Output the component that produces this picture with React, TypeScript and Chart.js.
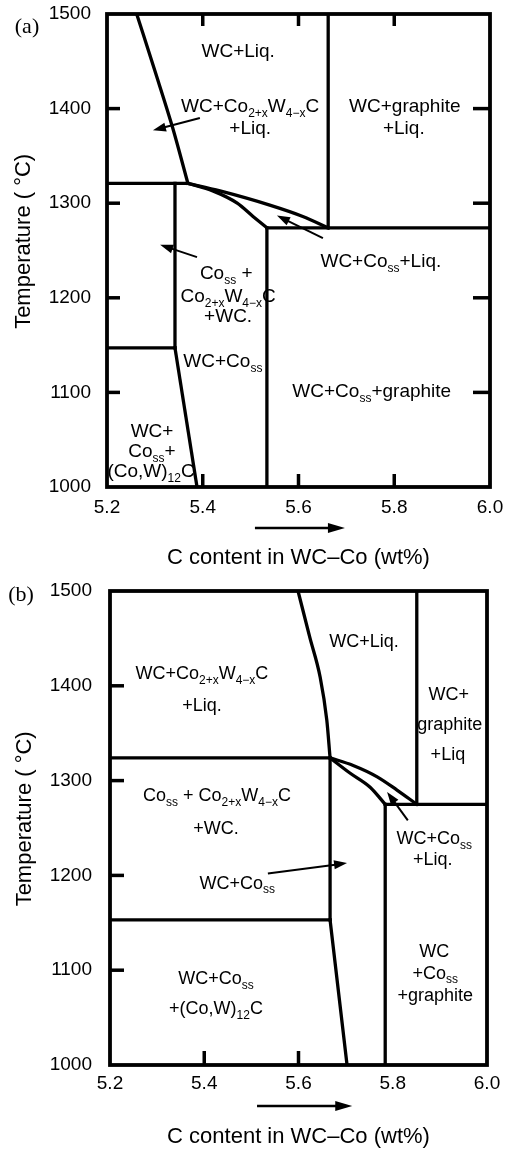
import React, { useEffect, useRef } from 'react';
import { Chart, registerables } from 'chart.js';

Chart.register(...registerables);

// ---------------- axis ticks ----------------
const X_MIN = 5.2;
const X_MAX = 6.0;
const X_STEP = 0.2;
const T_MIN = 1000;
const T_MAX = 1500;
const T_STEP = 100;
const INNER_T_TICKS = [1100, 1200, 1300, 1400];
const INNER_X_TICKS = [5.4, 5.6, 5.8];

// ---------------- panel (a) boundaries ----------------
const A_LIQUIDUS_X = [5.262, 5.3, 5.337, 5.369];
const A_LIQUIDUS_T = [1500, 1440, 1380, 1321];
const A_EUTECTIC_X = [5.2, 5.369];
const A_EUTECTIC_T = [1321, 1321];
const A_ETA_X = [5.342, 5.342];
const A_ETA_T = [1321, 1147];
const A_LOWER_X = [5.2, 5.342];
const A_LOWER_T = [1147, 1147];
const A_SOLVUS_X = [5.342, 5.388];
const A_SOLVUS_T = [1147, 1000];
const A_UPPER_ARC_X = [5.369, 5.436, 5.54, 5.609, 5.662];
const A_UPPER_ARC_T = [1321, 1313, 1298, 1286, 1274];
const A_LOWER_ARC_X = [5.369, 5.421, 5.472, 5.505, 5.534];
const A_LOWER_ARC_T = [1321, 1313, 1300, 1286, 1274];
const A_GRAPH_H_X = [5.534, 6.0];
const A_GRAPH_H_T = [1274, 1274];
const A_GRAPH_V_X = [5.534, 5.534];
const A_GRAPH_V_T = [1274, 1000];
const A_LIQ_V_X = [5.662, 5.662];
const A_LIQ_V_T = [1500, 1274];

// ---------------- panel (b) boundaries ----------------
const B_LIQUIDUS_X = [5.599, 5.624, 5.646, 5.66, 5.667];
const B_LIQUIDUS_T = [1500, 1451, 1409, 1364, 1324];
const B_EUTECTIC_X = [5.2, 5.667];
const B_EUTECTIC_T = [1324, 1324];
const B_ETA_X = [5.667, 5.667];
const B_ETA_T = [1324, 1153];
const B_LOWER_X = [5.2, 5.667];
const B_LOWER_T = [1153, 1153];
const B_SOLVUS_X = [5.667, 5.703];
const B_SOLVUS_T = [1153, 1000];
const B_UPPER_ARC_X = [5.667, 5.716, 5.767, 5.809, 5.851];
const B_UPPER_ARC_T = [1324, 1316, 1304, 1290, 1275];
const B_LOWER_ARC_X = [5.667, 5.709, 5.752, 5.784];
const B_LOWER_ARC_T = [1324, 1308, 1293, 1275];
const B_GRAPH_H_X = [5.784, 6.0];
const B_GRAPH_H_T = [1275, 1275];
const B_GRAPH_V_X = [5.784, 5.784];
const B_GRAPH_V_T = [1275, 1000];
const B_LIQ_V_X = [5.851, 5.851];
const B_LIQ_V_T = [1500, 1275];

// ---------------- region labels (text, x wt%, T) ----------------
const A_LABEL_TEXT = [
  'WC+Liq.', 'WC+Co_{2+x}W_{4−x}C', '+Liq.', 'WC+graphite', '+Liq.',
  'WC+Co_{ss}+Liq.', 'Co_{ss} +', 'Co_{2+x}W_{4−x}C', '+WC.', 'WC+Co_{ss}',
  'WC+Co_{ss}+graphite', 'WC+', 'Co_{ss}+', '(Co,W)_{12}C',
];
const A_LABEL_X = [5.474, 5.499, 5.499, 5.822, 5.82, 5.772, 5.449, 5.453, 5.453, 5.442, 5.753, 5.294, 5.294, 5.292];
const A_LABEL_T = [1462, 1404, 1380, 1404, 1380, 1240, 1227, 1203, 1182, 1134, 1102, 1060, 1039, 1018];

const B_LABEL_TEXT = [
  'WC+Liq.', 'WC+Co_{2+x}W_{4−x}C', '+Liq.', 'WC+', 'graphite', '+Liq',
  'Co_{ss} + Co_{2+x}W_{4−x}C', '+WC.', 'WC+Co_{ss}', '+Liq.', 'WC+Co_{ss}',
  'WC+Co_{ss}', '+(Co,W)_{12}C', 'WC', '+Co_{ss}', '+graphite',
];
const B_LABEL_X = [5.739, 5.395, 5.395, 5.919, 5.921, 5.917, 5.427, 5.425, 5.888, 5.885, 5.47, 5.425, 5.425, 5.888, 5.89, 5.89];
const B_LABEL_T = [1448, 1414, 1380, 1392, 1360, 1329, 1285, 1251, 1240, 1218, 1193, 1092, 1061, 1121, 1098, 1074];

// ---------------- pointer arrows (x0, T0 -> x1, T1 tip) ----------------
const A_ARROWS = [
  [5.394, 1390, 5.296, 1377],
  [5.651, 1263, 5.555, 1287],
  [5.388, 1243, 5.311, 1256],
];
const B_ARROWS = [
  [5.535, 1202, 5.703, 1213],
  [5.832, 1258, 5.788, 1288],
];
const A_AXIS_ARROW_X = [5.509, 5.697];
const B_AXIS_ARROW_X = [5.512, 5.714];

const X_TITLE = 'C content in WC–Co (wt%)';
const Y_TITLE = '   Temperature ( °C)';

const SANS = '"Liberation Sans", Arial, Helvetica, sans-serif';

type Seg = { xs: number[]; ts: number[]; curve?: boolean };

const A_SEGS: Seg[] = [
  { xs: A_LIQUIDUS_X, ts: A_LIQUIDUS_T, curve: true },
  { xs: A_EUTECTIC_X, ts: A_EUTECTIC_T },
  { xs: A_ETA_X, ts: A_ETA_T },
  { xs: A_LOWER_X, ts: A_LOWER_T },
  { xs: A_SOLVUS_X, ts: A_SOLVUS_T },
  { xs: A_UPPER_ARC_X, ts: A_UPPER_ARC_T, curve: true },
  { xs: A_LOWER_ARC_X, ts: A_LOWER_ARC_T, curve: true },
  { xs: A_GRAPH_H_X, ts: A_GRAPH_H_T },
  { xs: A_GRAPH_V_X, ts: A_GRAPH_V_T },
  { xs: A_LIQ_V_X, ts: A_LIQ_V_T },
];
const B_SEGS: Seg[] = [
  { xs: B_LIQUIDUS_X, ts: B_LIQUIDUS_T, curve: true },
  { xs: B_EUTECTIC_X, ts: B_EUTECTIC_T },
  { xs: B_ETA_X, ts: B_ETA_T },
  { xs: B_LOWER_X, ts: B_LOWER_T },
  { xs: B_SOLVUS_X, ts: B_SOLVUS_T },
  { xs: B_UPPER_ARC_X, ts: B_UPPER_ARC_T, curve: true },
  { xs: B_LOWER_ARC_X, ts: B_LOWER_ARC_T, curve: true },
  { xs: B_GRAPH_H_X, ts: B_GRAPH_H_T },
  { xs: B_GRAPH_V_X, ts: B_GRAPH_V_T },
  { xs: B_LIQ_V_X, ts: B_LIQ_V_T },
];

function parseRich(s: string) {
  const parts: { t: string; sub: boolean }[] = [];
  const re = /_\{([^}]*)\}/g;
  let last = 0;
  let m: RegExpExecArray | null;
  while ((m = re.exec(s))) {
    if (m.index > last) parts.push({ t: s.slice(last, m.index), sub: false });
    parts.push({ t: m[1], sub: true });
    last = re.lastIndex;
  }
  if (last < s.length) parts.push({ t: s.slice(last), sub: false });
  return parts;
}

function drawRich(ctx: CanvasRenderingContext2D, text: string, cx: number, cy: number, size: number, subSize: number) {
  const parts = parseRich(text);
  const mainFont = `${size}px ${SANS}`;
  const subFont = `${subSize}px ${SANS}`;
  let w = 0;
  for (const p of parts) {
    ctx.font = p.sub ? subFont : mainFont;
    w += ctx.measureText(p.t).width;
  }
  let x = cx - w / 2;
  const base = cy + size * 0.36;
  ctx.textAlign = 'left';
  ctx.textBaseline = 'alphabetic';
  for (const p of parts) {
    ctx.font = p.sub ? subFont : mainFont;
    ctx.fillText(p.t, x, p.sub ? base + size * 0.27 : base);
    x += ctx.measureText(p.t).width;
  }
}

function drawArrow(ctx: CanvasRenderingContext2D, x0: number, y0: number, x1: number, y1: number, L: number, W: number) {
  const ang = Math.atan2(y1 - y0, x1 - x0);
  const bx = x1 - L * Math.cos(ang);
  const by = y1 - L * Math.sin(ang);
  ctx.beginPath();
  ctx.moveTo(x0, y0);
  ctx.lineTo(bx + Math.cos(ang), by + Math.sin(ang));
  ctx.stroke();
  ctx.beginPath();
  ctx.moveTo(x1, y1);
  ctx.lineTo(bx + W * Math.sin(ang), by - W * Math.cos(ang));
  ctx.lineTo(bx - W * Math.sin(ang), by + W * Math.cos(ang));
  ctx.closePath();
  ctx.fill();
}

const decorPlugin = {
  id: 'decor',
  afterDatasetsDraw(chart: any, _args: any, opts: any) {
    const { ctx, chartArea } = chart;
    const { left, right, top, bottom } = chartArea;
    const xs = chart.scales.x;
    const ys = chart.scales.y;
    const px = (v: number) => xs.getPixelForValue(v);
    const py = (v: number) => ys.getPixelForValue(v);
    ctx.save();
    ctx.strokeStyle = '#000';
    ctx.fillStyle = '#000';
    ctx.lineWidth = 3.8;
    ctx.strokeRect(left, top, right - left, bottom - top);
    const seg = (x1: number, y1: number, x2: number, y2: number) => {
      ctx.beginPath();
      ctx.moveTo(x1, y1);
      ctx.lineTo(x2, y2);
      ctx.stroke();
    };
    ctx.lineWidth = 3.5;
    for (const t of opts.leftTicks) seg(left, py(t), left + opts.tickLen, py(t));
    for (const t of opts.rightTicks) seg(right, py(t), right - opts.tickLen - 4, py(t));
    for (const v of opts.bottomTicks) seg(px(v), bottom, px(v), bottom - opts.tickLen);
    for (const v of opts.topTicks) seg(px(v), top, px(v), top + opts.tickLen - 1);

    ctx.lineWidth = 2;
    for (const a of opts.arrows) drawArrow(ctx, px(a[0]), py(a[1]), px(a[2]), py(a[3]), 13, 4.5);
    ctx.lineWidth = 2.5;
    const ay = bottom + opts.axisArrowDy;
    drawArrow(ctx, px(opts.axisArrowX[0]), ay, px(opts.axisArrowX[1]), ay, 17, 5);

    const texts: string[] = opts.labelText;
    for (let i = 0; i < texts.length; i++) {
      drawRich(ctx, texts[i], px(opts.labelX[i]), py(opts.labelT[i]), opts.labelSize, opts.subSize);
    }

    ctx.font = '22px "Liberation Serif", "DejaVu Serif", serif';
    ctx.textAlign = 'center';
    ctx.textBaseline = 'middle';
    ctx.fillText(opts.tag, left + opts.tagDx, top + opts.tagDy);
    ctx.restore();
  },
};

type PanelCfg = {
  height: number;
  segs: Seg[];
  padTop: number;
  padRight: number;
  yW: number;
  xH: number;
  yTickPad: number;
  xTickPad: number;
  yTitlePad: number;
  xTitlePad: number;
  decor: any;
};

const PANEL_A: PanelCfg = {
  height: 575,
  segs: A_SEGS,
  padTop: 14,
  padRight: 19,
  yW: 107,
  xH: 88,
  yTickPad: 16,
  xTickPad: 9,
  yTitlePad: 13,
  xTitlePad: 6,
  decor: {
    leftTicks: INNER_T_TICKS,
    rightTicks: INNER_T_TICKS,
    bottomTicks: INNER_X_TICKS,
    topTicks: INNER_X_TICKS,
    tickLen: 13,
    arrows: A_ARROWS,
    axisArrowX: A_AXIS_ARROW_X,
    axisArrowDy: 41,
    labelText: A_LABEL_TEXT,
    labelX: A_LABEL_X,
    labelT: A_LABEL_T,
    labelSize: 19,
    subSize: 12,
    tag: '(a)',
    tagDx: -80,
    tagDy: 13,
  },
};

const PANEL_B: PanelCfg = {
  height: 574,
  segs: B_SEGS,
  padTop: 16,
  padRight: 22,
  yW: 110,
  xH: 84,
  yTickPad: 18,
  xTickPad: 7,
  yTitlePad: 14,
  xTitlePad: 1,
  decor: {
    leftTicks: INNER_T_TICKS,
    rightTicks: [],
    bottomTicks: [5.4, 5.6],
    topTicks: [],
    tickLen: 14,
    arrows: B_ARROWS,
    axisArrowX: B_AXIS_ARROW_X,
    axisArrowDy: 41,
    labelText: B_LABEL_TEXT,
    labelX: B_LABEL_X,
    labelT: B_LABEL_T,
    labelSize: 18,
    subSize: 12,
    tag: '(b)',
    tagDx: -89,
    tagDy: 4,
  },
};

function Panel({ cfg }: { cfg: PanelCfg }) {
  const ref = useRef<HTMLCanvasElement>(null);
  useEffect(() => {
    const datasets = cfg.segs.map((s) => ({
      data: s.xs.map((x, i) => ({ x, y: s.ts[i] })),
      showLine: true,
      borderColor: '#000',
      borderWidth: 3.3,
      borderCapStyle: 'square' as const,
      borderJoinStyle: 'round' as const,
      pointRadius: 0,
      pointHoverRadius: 0,
      cubicInterpolationMode: s.curve ? ('monotone' as const) : ('default' as const),
      tension: s.curve ? 0.4 : 0,
      fill: false,
    }));
    const chart = new Chart(ref.current!, {
      type: 'scatter',
      data: { datasets },
      options: {
        animation: false,
        responsive: false,
        devicePixelRatio: 1,
        events: [],
        layout: { padding: { top: cfg.padTop, right: cfg.padRight, left: 0, bottom: 0 } },
        plugins: {
          legend: { display: false },
          tooltip: { enabled: false },
          decor: cfg.decor,
        } as any,
        scales: {
          x: {
            type: 'linear',
            min: X_MIN,
            max: X_MAX,
            grid: { display: false, drawTicks: false },
            border: { display: false },
            ticks: {
              stepSize: X_STEP,
              autoSkip: false,
              maxRotation: 0,
              padding: cfg.xTickPad,
              color: '#000',
              font: { family: SANS, size: 19 },
              callback: (v: any) => Number(v).toFixed(1),
            },
            title: {
              display: true,
              text: X_TITLE,
              color: '#000',
              font: { family: SANS, size: 22, lineHeight: 1 },
              padding: { top: 0, bottom: cfg.xTitlePad },
            },
            afterFit: (s: any) => {
              s.height = cfg.xH;
              s.paddingLeft = 0;
              s.paddingRight = 0;
            },
          },
          y: {
            type: 'linear',
            min: T_MIN,
            max: T_MAX,
            grid: { display: false, drawTicks: false },
            border: { display: false },
            ticks: {
              stepSize: T_STEP,
              padding: cfg.yTickPad,
              color: '#000',
              font: { family: SANS, size: 19 },
              callback: (v: any) => String(Math.round(Number(v))),
            },
            title: {
              display: true,
              text: Y_TITLE,
              color: '#000',
              font: { family: SANS, size: 22, lineHeight: 1 },
              padding: { top: cfg.yTitlePad, bottom: 0 },
            },
            afterFit: (s: any) => {
              s.width = cfg.yW;
              s.paddingTop = 0;
              s.paddingBottom = 0;
            },
          },
        },
      },
      plugins: [decorPlugin],
    });
    return () => chart.destroy();
  }, []);
  return <canvas ref={ref} width={509} height={cfg.height} style={{ display: 'block', width: 509, height: cfg.height }} />;
}

export default function App() {
  return (
    <div style={{ position: 'absolute', left: 0, top: 0, width: 509, height: 1149, background: '#fff' }}>
      <Panel cfg={PANEL_A} />
      <Panel cfg={PANEL_B} />
    </div>
  );
}
